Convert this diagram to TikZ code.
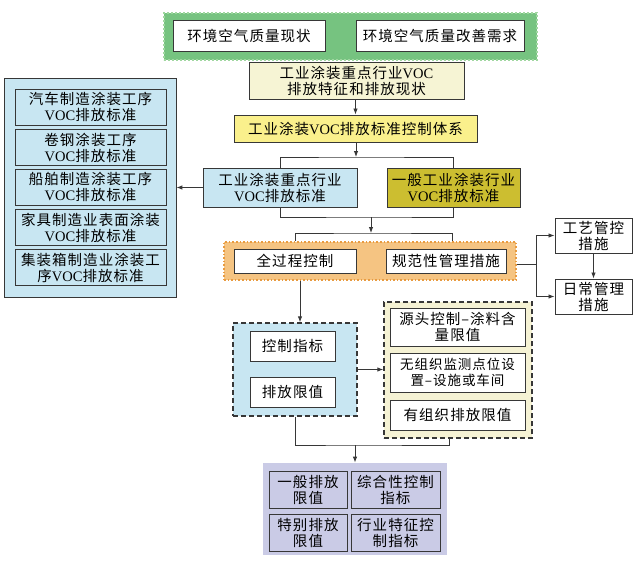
\documentclass[tikz,border=0pt]{standalone}
\usepackage{fontspec}
\setmainfont{Noto Sans CJK SC}[LetterSpace=7]
\newfontfamily\latf{Liberation Serif}
\newcommand\VOC{{\latf VOC}}
\usetikzlibrary{arrows.meta}
\definecolor{bd}{RGB}{55,55,55}
\definecolor{gfill}{RGB}{118,195,128}
\definecolor{gedge}{RGB}{160,215,160}
\definecolor{ylight}{RGB}{246,244,212}
\definecolor{yel}{RGB}{250,240,140}
\definecolor{lblue}{RGB}{200,230,242}
\definecolor{oliv}{RGB}{204,190,48}
\definecolor{ofill}{RGB}{245,196,130}
\definecolor{oedge}{RGB}{232,155,65}
\definecolor{cream}{RGB}{245,242,212}
\definecolor{lav}{RGB}{202,203,230}
\tikzset{
  box/.style={draw=bd, line width=1pt, inner sep=0pt, align=center,
    font=\fontsize{14.5}{16}\selectfont},
  wbox/.style={box, fill=white},
  gbox/.style={draw=gedge, fill=gfill, line width=2pt, dotted, inner sep=0pt},
  obox/.style={draw=oedge, fill=ofill, line width=1.6pt, dotted, inner sep=0pt},
  dbox/.style={draw=bd, line width=1.4pt, dash pattern=on 5pt off 3pt, inner sep=0pt},
  lbox/.style={draw=bd, line width=0.8pt, inner sep=0pt},
  ln/.style={draw=bd, line width=0.9pt},
  arr/.style={ln, -{Latex[length=6pt,width=4.5pt]}},
}
\begin{document}
\begin{tikzpicture}[x=1pt,y=-1pt]
\useasboundingbox (0,0) rectangle (640,560);
\fill[white] (0,0) rectangle (640,560);

% top environment block
\node[gbox, minimum width=373pt, minimum height=47pt] (env) at (350,36) {};
\node[wbox, minimum width=152pt, minimum height=31pt] (env1) at (249,35.5) {环境空气质量现状};
\node[wbox, minimum width=168pt, minimum height=31pt] (env2) at (440,35.5) {环境空气质量改善需求};

\node[box, fill=ylight, minimum width=215pt, minimum height=37pt] (feat) at (356.5,80.5) {工业涂装重点行业\VOC\\排放特征和排放现状};
\node[box, fill=yel, minimum width=243pt, minimum height=27pt] (sys) at (355.5,128.5) {工业涂装\VOC 排放标准控制体系};
\node[box, fill=lblue, minimum width=154pt, minimum height=39pt] (key) at (280,187.5) {工业涂装重点行业\\\VOC 排放标准};
\node[box, fill=oliv, minimum width=133pt, minimum height=39pt] (gen) at (453.5,187.5) {一般工业涂装行业\\\VOC 排放标准};

% left standards block
\node[lbox, fill=lblue, minimum width=172pt, minimum height=219pt] (stds) at (90,187.5) {};
\node[box, fill=lblue, minimum width=151pt, minimum height=36pt] (s1) at (90.5,107) {汽车制造涂装工序\\\VOC 排放标准};
\node[box, fill=lblue, minimum width=151pt, minimum height=36pt] (s2) at (90.5,147.5) {卷钢涂装工序\\\VOC 排放标准};
\node[box, fill=lblue, minimum width=151pt, minimum height=36pt] (s3) at (90.5,187) {船舶制造涂装工序\\\VOC 排放标准};
\node[box, fill=lblue, minimum width=151pt, minimum height=36pt] (s4) at (90.5,227.5) {家具制造业表面涂装\\\VOC 排放标准};
\node[box, fill=lblue, minimum width=151pt, minimum height=36pt] (s5) at (90.5,267.5) {集装箱制造业涂装工\\序\VOC 排放标准};

% orange block
\node[obox, minimum width=292pt, minimum height=38pt] (orange) at (370,261) {};
\node[wbox, minimum width=122pt, minimum height=24pt] (q1) at (295,261) {全过程控制};
\node[wbox, minimum width=120pt, minimum height=24pt] (q2) at (446,261) {规范性管理措施};

% right measures
\node[wbox, minimum width=77pt, minimum height=35pt] (craft) at (593.5,235.5) {工艺管控\\措施};
\node[wbox, minimum width=77pt, minimum height=35pt] (daily) at (593.5,296.5) {日常管理\\措施};

% blue dashed block
\node[dbox, fill=lblue, minimum width=124pt, minimum height=93pt] (blue) at (295,369.5) {};
\node[wbox, minimum width=85pt, minimum height=30pt] (c1) at (292.5,346) {控制指标};
\node[wbox, minimum width=85pt, minimum height=30pt] (c2) at (292.5,392) {排放限值};

% cream dashed block
\node[dbox, fill=cream, minimum width=148pt, minimum height=136pt] (cr) at (458,370) {};
\node[wbox, minimum width=135pt, minimum height=38pt] (m1) at (457.5,327) {源头控制–涂料含\\量限值};
\node[wbox, minimum width=135pt, minimum height=39pt, font=\fontsize{13.5}{16}\selectfont] (m2) at (457.5,372.5) {无组织监测点位设\\置–设施或车间};
\node[wbox, minimum width=135pt, minimum height=30pt] (m3) at (457.5,415) {有组织排放限值};

% lavender block
\node[lbox, draw=none, fill=lav, minimum width=184pt, minimum height=92pt] (lv) at (355,509) {};
\node[box, fill=lav, minimum width=78pt, minimum height=37pt] (p1) at (308,489.5) {一般排放\\限值};
\node[box, fill=lav, minimum width=89pt, minimum height=37pt] (p2) at (395.5,489.5) {综合性控制\\指标};
\node[box, fill=lav, minimum width=78pt, minimum height=37pt] (p3) at (308,533) {特别排放\\限值};
\node[box, fill=lav, minimum width=89pt, minimum height=37pt] (p4) at (395.5,533) {行业特征控\\制指标};

% connectors
\draw[arr] (feat.south -| sys.north) -- (sys.north);
\coordinate (t1) at (356,157);
\draw[arr] (sys.south -| t1) -- (t1);
\draw[ln] (key.north) |- (t1) -| (gen.north);
\draw[arr] (key.west) -- (stds.east |- key.west);
\coordinate (t2) at (371,217);
\draw[ln] (key.south) |- (t2) -| (gen.south);
\coordinate (t3) at (371,233);
\draw[arr] (t2) -- (t3);
\draw[ln] (q1.north |- orange.north) |- (t3) -| ([xshift=6pt]q2.north |- orange.north);
\coordinate (r) at (536,264);
\draw[ln] (orange.east |- r) -- (r);
\draw[arr] (r) |- (craft.west);
\draw[arr] (r) |- (daily.west);
\draw[arr] (craft) -- (daily);
\draw[arr] ([xshift=5pt]orange.south -| q1.south) -- ([xshift=5pt]blue.north -| q1.south);
\draw[arr] (blue.east) -- (cr.west |- blue.east);
\coordinate (t4) at (355,445);
\draw[ln] (blue.south) |- (t4) -| ([xshift=-9pt]cr.south);
\draw[arr] (t4) -- (lv.north -| t4);
\end{tikzpicture}
\end{document}
